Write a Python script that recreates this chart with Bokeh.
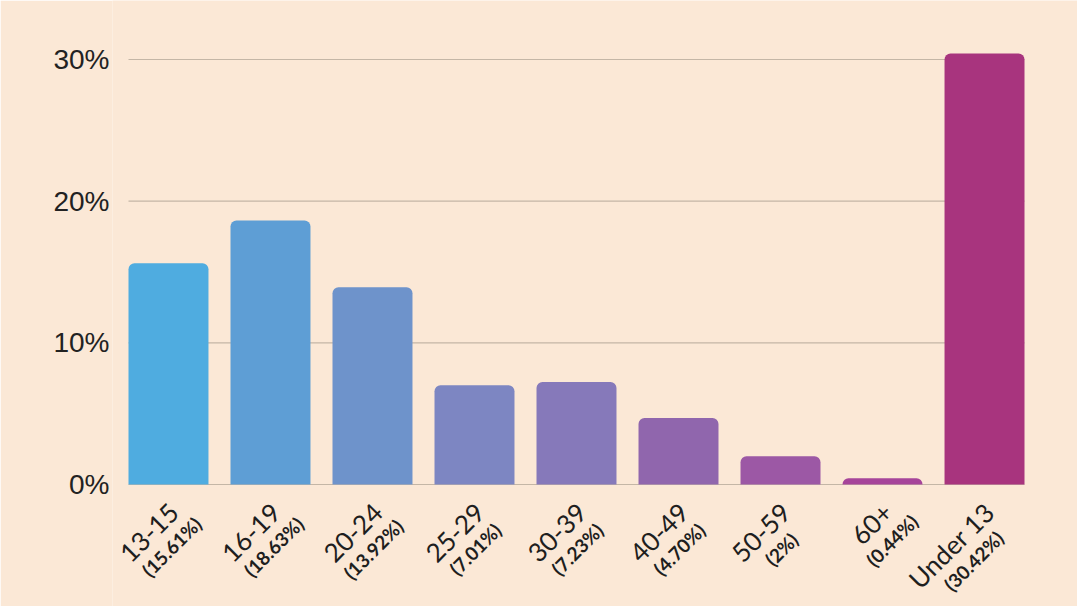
import numpy as np
from bokeh.plotting import figure
from bokeh.models import ColumnDataSource, Range1d, FixedTicker, PrintfTickFormatter, LabelSet
from bokeh.core.properties import value
from bokeh.embed import file_html
from bokeh.resources import INLINE

# ---- data ----
categories = ["13-15", "16-19", "20-24", "25-29", "30-39", "40-49", "50-59", "60+", "Under 13"]
shares = [15.61, 18.63, 13.92, 7.01, 7.23, 4.70, 2.0, 0.44, 30.42]
share_labels = ["(15.61%)", "(18.63%)", "(13.92%)", "(7.01%)", "(7.23%)",
                "(4.70%)", "(2%)", "(0.44%)", "(30.42%)"]
bar_colors = ["#4FACE0", "#5E9ED5", "#6E93CB", "#7D86C2", "#8679BA",
              "#9066AD", "#9C58A5", "#A6449A", "#A8347E"]
y_ticks = [0, 10, 20, 30]

# ---- layout constants ----
W, H = 1077, 606
FRAME_LEFT = 112          # frame starts left of the bars so rotated labels are not clipped
BARS_LEFT, BARS_RIGHT = 128, 1024
PX_PER_UNIT = 14.167
ZERO_Y = 484              # pixel row of 0%
BAR_W = 0.784

n = len(categories)
xs = np.arange(n) + 0.5
x_lo = 0.5 - BAR_W / 2
x_hi = n - 0.5 + BAR_W / 2
px_x = (BARS_RIGHT - BARS_LEFT) / (x_hi - x_lo)
x_start = x_lo - (BARS_LEFT - FRAME_LEFT) / px_x
x_end = x_hi + (W - BARS_RIGHT) / px_x
y0 = -(H - ZERO_Y) / PX_PER_UNIT
y1 = ZERO_Y / PX_PER_UNIT

p = figure(width=W, height=H, output_backend="svg", toolbar_location=None,
           x_range=Range1d(x_start, x_end), y_range=Range1d(y0, y1),
           x_axis_location=None,
           min_border_left=FRAME_LEFT, min_border_right=0,
           min_border_top=0, min_border_bottom=0)
p.background_fill_color = "#FBE8D6"
p.border_fill_color = "#FBE8D6"
p.outline_line_color = None
p.xgrid.visible = False
p.ygrid.visible = False

ax = p.yaxis[0]
ax.ticker = FixedTicker(ticks=y_ticks)
ax.formatter = PrintfTickFormatter(format="%d%%")
ax.axis_line_color = None
ax.major_tick_line_color = None
ax.minor_tick_line_color = None
ax.major_tick_out = 0
ax.major_tick_in = 0
ax.major_label_standoff = 3
ax.major_label_text_font = "Liberation Sans"
ax.major_label_text_font_size = "28px"
ax.major_label_text_color = "#222222"

# horizontal grid lines spanning the bar area only
p.segment(x0=[x_lo] * len(y_ticks), x1=[x_hi] * len(y_ticks), y0=y_ticks, y1=y_ticks,
          line_color="#C4B6A6", line_width=1.2)

src = ColumnDataSource(dict(x=xs, top=shares, color=bar_colors))
p.vbar(x="x", top="top", bottom=0, width=BAR_W, fill_color="color",
       line_color=None, source=src, border_radius=(6, 6, 0, 0))

# ---- rotated two-line category labels ----
CW = {"0": .58, "1": .45, "2": .58, "3": .58, "4": .58, "5": .58, "6": .58, "7": .58,
      "8": .58, "9": .58, "-": .37, "+": .58, " ": .19, "U": .71, "n": .56, "d": .57,
      "e": .53, "r": .38}
CAT_SIZE = 26
c = np.cos(np.pi / 4)
anchor_dx, anchor_dy = 5.0, 23.0       # px right / below the 0% line
cat_x_off, cat_y, pct_x_off, pct_y = [], [], [], []
for cat in categories:
    L = sum(CW.get(ch, .56) for ch in cat) * CAT_SIZE
    cat_x_off.append(anchor_dx)
    cat_y.append(-anchor_dy / PX_PER_UNIT)
    cx = anchor_dx - (L / 2) * c
    cy = anchor_dy + (L / 2) * c
    pct_x_off.append(cx + 20.5)
    pct_y.append(-(cy + 17.0) / PX_PER_UNIT)

lab = ColumnDataSource(dict(x=xs, cat=categories, pct=share_labels,
                            cxo=cat_x_off, cy=cat_y, pxo=pct_x_off, py=pct_y))
p.add_layout(LabelSet(x="x", y="cy", text="cat", x_offset="cxo", source=lab,
                      angle=np.pi / 4, text_align="right", text_baseline="middle",
                      text_font=value("Lato"), text_font_size=f"{CAT_SIZE}px",
                      text_color="#1E1E1E"))
p.add_layout(LabelSet(x="x", y="py", text="pct", x_offset="pxo", source=lab,
                      angle=np.pi / 4, text_align="center", text_baseline="middle",
                      text_font=value("Lato"), text_font_style="bold",
                      text_font_size="19px", text_color="#1E1E1E"))

open("out.html", "w").write(file_html(p, INLINE))
